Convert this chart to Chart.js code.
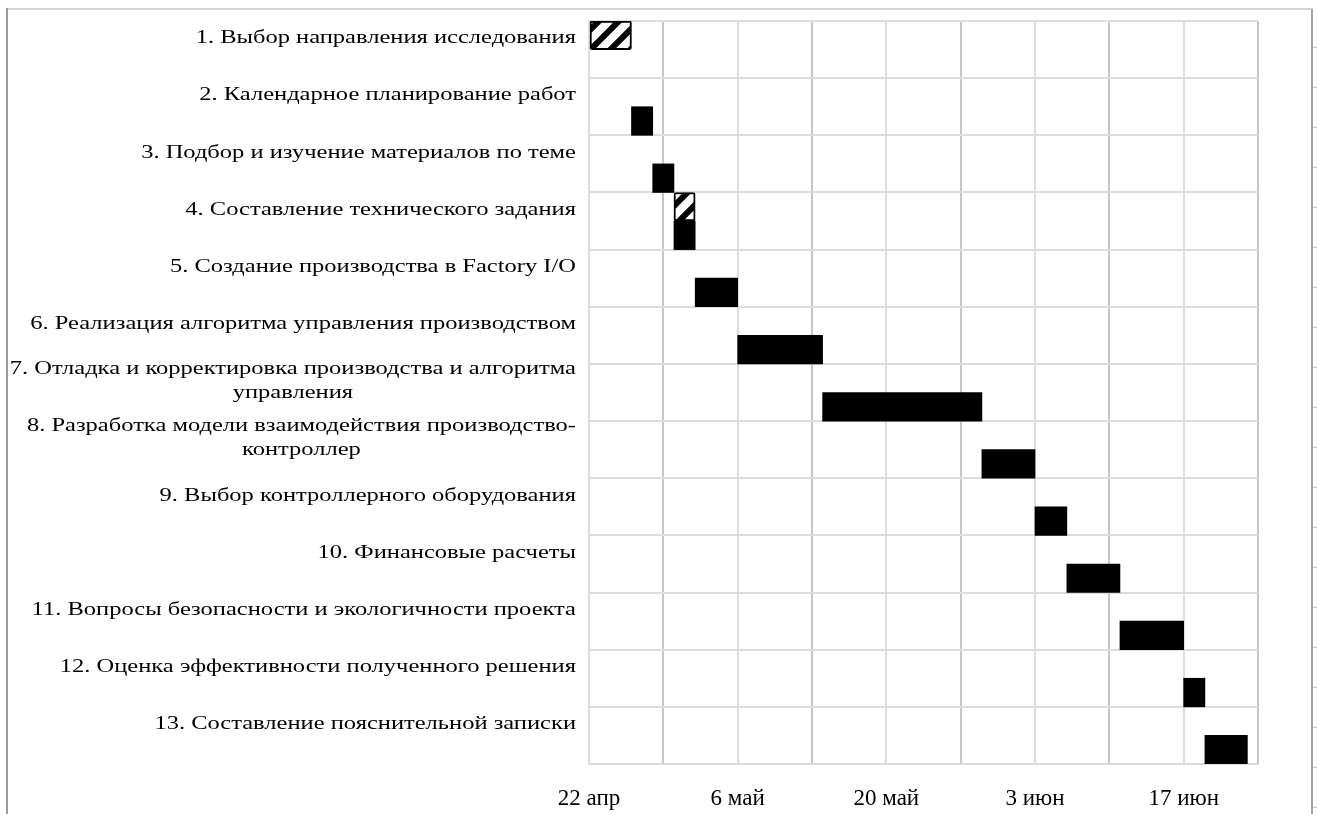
<!DOCTYPE html>
<html lang="ru">
<head>
<meta charset="utf-8">
<title>Календарный план работ</title>
<script src="https://cdn.jsdelivr.net/npm/chart.js@4.4.1/dist/chart.umd.min.js"></script>
<style>
  html, body { margin: 0; padding: 0; background: #fff; overflow: hidden; }
  #wrap { position: relative; width: 1318px; height: 814px; }
  #gantt { position: absolute; left: 0; top: 0; }
  .frame { position: absolute; pointer-events: none; }
  #frameTop { left: 6px; top: 8px; width: 1307px; height: 2px; background: #d4d4d4; }
  #frameLeft { left: 6px; top: 8px; width: 2px; height: 806px; background: #9c9c9c; }
  #frameRight { left: 1311px; top: 9px; width: 2px; height: 805px; background: #a4a4a4; }
  #frameRuler { left: 1313px; top: 8px; width: 4px; height: 806px;
    background: repeating-linear-gradient(to bottom, transparent 0 39px, #c8c8c8 39px 40px); }
</style>
</head>
<body>
<div id="wrap">
  <canvas id="gantt" width="1318" height="814"></canvas>
  <div class="frame" id="frameTop"></div>
  <div class="frame" id="frameLeft"></div>
  <div class="frame" id="frameRight"></div>
  <div class="frame" id="frameRuler"></div>
</div>
<script>
// Work stages (multi-line names are given as arrays of lines)
const taskLabels = [
  '1. Выбор направления исследования',
  '2. Календарное планирование работ',
  '3. Подбор и изучение материалов по теме',
  '4. Составление технического задания',
  '5. Создание производства в Factory I/O',
  '6. Реализация алгоритма управления производством',
  ['7. Отладка и корректировка производства и алгоритма', 'управления'],
  ['8. Разработка модели взаимодействия производство-', 'контроллер'],
  '9. Выбор контроллерного оборудования',
  '10. Финансовые расчеты',
  '11. Вопросы безопасности и экологичности проекта',
  '12. Оценка эффективности полученного решения',
  '13. Составление пояснительной записки'
];

// Days counted from 22 April
const planStart   = [0, null, null, 8, null, null, null, null, null, null, null, null, null];
const planEnd     = [4, null, null, 10, null, null, null, null, null, null, null, null, null];
const actualStart = [null, 4, 6, 8, 10, 14, 22, 37, 42, 45, 50, 56, 58];
const actualEnd   = [null, 6, 8, 10, 14, 22, 37, 42, 45, 50, 56, 58, 62];

// Axis: weekly grid, a date label every two weeks
const dayMin = 0;
const dayMax = 63;
const gridStepDays = 7;
const dateLabels = ['22 апр', '6 май', '20 май', '3 июн', '17 июн'];

const planBars = planStart.map((s, i) => (s === null ? null : [s, planEnd[i]]));
const actualBars = actualStart.map((s, i) => (s === null ? null : [s, actualEnd[i]]));

// Diagonal hatch fill for the planned stages
function makeHatch() {
  const size = 20;
  const c = document.createElement('canvas');
  c.width = size; c.height = size;
  const g = c.getContext('2d');
  g.fillStyle = '#ffffff';
  g.fillRect(0, 0, size, size);
  g.strokeStyle = '#000000';
  g.lineWidth = 6;
  g.lineCap = 'square';
  [-size, 0, size].forEach(ox => {
    g.beginPath();
    g.moveTo(ox, size);
    g.lineTo(ox + size, 0);
    g.stroke();
  });
  return g.createPattern(c, 'repeat');
}

const serif = "'Liberation Serif', 'Times New Roman', serif";
const labelFont = '19px ' + serif;
const labelStretch = 1.29;
const labelLineHeight = 24;

// Task names: right-aligned as blocks, lines centred inside each block
const taskLabelPlugin = {
  id: 'taskLabels',
  afterDraw(chart) {
    const { ctx, chartArea } = chart;
    const yScale = chart.scales.y;
    const rowH = (chartArea.bottom - chartArea.top) / taskLabels.length;
    const right = chartArea.left - 13;
    ctx.save();
    ctx.font = labelFont;
    ctx.fillStyle = '#000';
    ctx.textAlign = 'center';
    ctx.textBaseline = 'middle';
    taskLabels.forEach((lbl, i) => {
      const lines = Array.isArray(lbl) ? lbl : [lbl];
      const maxW = Math.max(...lines.map(l => ctx.measureText(l).width)) * labelStretch;
      const cx = right - maxW / 2;
      const cy = yScale.getPixelForValue(i) - rowH / 4 + 3;
      lines.forEach((line, j) => {
        ctx.save();
        ctx.translate(cx, cy + (j - (lines.length - 1) / 2) * labelLineHeight);
        ctx.scale(labelStretch, 1);
        ctx.fillText(line, 0, 0);
        ctx.restore();
      });
    });
    ctx.restore();
  }
};

new Chart(document.getElementById('gantt'), {
  type: 'bar',
  data: {
    labels: taskLabels.map(l => (Array.isArray(l) ? l.join(' ') : l)),
    datasets: [
      {
        label: 'План',
        data: planBars,
        backgroundColor: makeHatch(),
        borderColor: '#000000',
        borderWidth: 2,
        borderSkipped: false,
        borderRadius: 2
      },
      {
        label: 'Факт',
        data: actualBars,
        backgroundColor: '#000000',
        borderWidth: 0
      }
    ]
  },
  options: {
    indexAxis: 'y',
    responsive: false,
    animation: false,
    events: [],
    layout: { padding: { top: 21, right: 60, bottom: 0, left: 0 } },
    datasets: { bar: { categoryPercentage: 1, barPercentage: 1 } },
    plugins: {
      legend: { display: false },
      tooltip: { enabled: false }
    },
    scales: {
      x: {
        type: 'linear',
        position: 'bottom',
        min: dayMin,
        max: dayMax,
        afterFit(scale) { scale.height = 50; },
        afterBuildTicks(scale) {
          const ticks = [];
          for (let d = dayMin; d <= dayMax; d += gridStepDays) ticks.push({ value: d });
          scale.ticks = ticks;
        },
        grid: {
          drawTicks: false,
          lineWidth: 2,
          color: ctx => ((ctx.tick && ctx.tick.value / gridStepDays) % 2 === 1 ? '#c6c6c6' : '#dcdcdc')
        },
        border: { display: false },
        ticks: {
          padding: 21,
          autoSkip: false,
          maxRotation: 0,
          color: '#000',
          font: { family: serif, size: 23 },
          callback: v => (v % (gridStepDays * 2) === 0 ? dateLabels[v / (gridStepDays * 2)] : '')
        }
      },
      y: {
        type: 'category',
        afterFit(scale) { scale.width = 589; },
        grid: { drawTicks: false, lineWidth: 2, color: '#dcdcdc', offset: true },
        border: { color: '#dcdcdc', width: 2 },
        ticks: { display: false }
      }
    }
  },
  plugins: [taskLabelPlugin]
});
</script>
</body>
</html>
